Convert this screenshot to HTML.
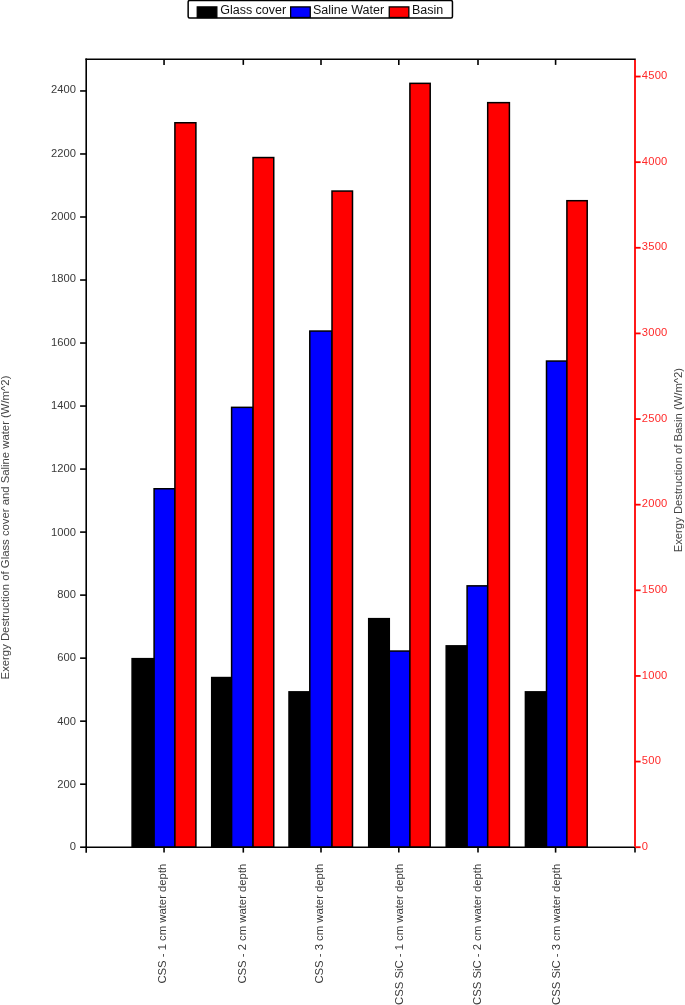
<!DOCTYPE html><html><head><meta charset="utf-8"><title>Exergy Destruction</title><style>html,body{margin:0;padding:0;background:#fff;width:685px;height:1005px;overflow:hidden}svg{display:block}text{font-family:'Liberation Sans', Arial, sans-serif}</style></head><body>
<svg width="685" height="1005" viewBox="0 0 685 1005">
<rect x="0" y="0" width="685" height="1005" fill="#fff"/>
<rect x="132.10" y="658.65" width="22.00" height="188.55" fill="#000000" stroke="#000" stroke-width="1.50"/>
<rect x="154.10" y="488.75" width="20.80" height="358.45" fill="#0000ff" stroke="#000" stroke-width="1.50"/>
<rect x="174.90" y="122.75" width="21.00" height="724.45" fill="#ff0000" stroke="#000" stroke-width="1.50"/>
<rect x="211.70" y="677.55" width="19.90" height="169.65" fill="#000000" stroke="#000" stroke-width="1.50"/>
<rect x="231.60" y="407.35" width="21.45" height="439.85" fill="#0000ff" stroke="#000" stroke-width="1.50"/>
<rect x="253.05" y="157.55" width="20.70" height="689.65" fill="#ff0000" stroke="#000" stroke-width="1.50"/>
<rect x="289.00" y="691.85" width="20.80" height="155.35" fill="#000000" stroke="#000" stroke-width="1.50"/>
<rect x="309.80" y="331.05" width="22.20" height="516.15" fill="#0000ff" stroke="#000" stroke-width="1.50"/>
<rect x="332.00" y="191.05" width="20.50" height="656.15" fill="#ff0000" stroke="#000" stroke-width="1.50"/>
<rect x="368.70" y="618.65" width="20.60" height="228.55" fill="#000000" stroke="#000" stroke-width="1.50"/>
<rect x="389.30" y="651.05" width="20.60" height="196.15" fill="#0000ff" stroke="#000" stroke-width="1.50"/>
<rect x="409.90" y="83.35" width="20.30" height="763.85" fill="#ff0000" stroke="#000" stroke-width="1.50"/>
<rect x="446.20" y="645.85" width="20.90" height="201.35" fill="#000000" stroke="#000" stroke-width="1.50"/>
<rect x="467.10" y="585.85" width="20.60" height="261.35" fill="#0000ff" stroke="#000" stroke-width="1.50"/>
<rect x="487.70" y="102.65" width="21.70" height="744.55" fill="#ff0000" stroke="#000" stroke-width="1.50"/>
<rect x="525.40" y="691.85" width="21.10" height="155.35" fill="#000000" stroke="#000" stroke-width="1.50"/>
<rect x="546.50" y="361.05" width="20.40" height="486.15" fill="#0000ff" stroke="#000" stroke-width="1.50"/>
<rect x="566.90" y="200.70" width="20.30" height="646.50" fill="#ff0000" stroke="#000" stroke-width="1.50"/>
<g stroke="#000" stroke-width="1.6" fill="none" stroke-linecap="square">
<line x1="86.20" y1="59.20" x2="635.00" y2="59.20"/>
<line x1="86.20" y1="59.20" x2="86.20" y2="847.20"/>
<line x1="86.20" y1="847.20" x2="635.00" y2="847.20"/>
</g>
<g stroke="#000" stroke-width="1.6" fill="none">
<line x1="80.1" y1="847.20" x2="86.20" y2="847.20"/>
<line x1="80.1" y1="784.18" x2="86.20" y2="784.18"/>
<line x1="80.1" y1="721.16" x2="86.20" y2="721.16"/>
<line x1="80.1" y1="658.14" x2="86.20" y2="658.14"/>
<line x1="80.1" y1="595.12" x2="86.20" y2="595.12"/>
<line x1="80.1" y1="532.10" x2="86.20" y2="532.10"/>
<line x1="80.1" y1="469.08" x2="86.20" y2="469.08"/>
<line x1="80.1" y1="406.06" x2="86.20" y2="406.06"/>
<line x1="80.1" y1="343.04" x2="86.20" y2="343.04"/>
<line x1="80.1" y1="280.02" x2="86.20" y2="280.02"/>
<line x1="80.1" y1="217.00" x2="86.20" y2="217.00"/>
<line x1="80.1" y1="153.98" x2="86.20" y2="153.98"/>
<line x1="80.1" y1="90.96" x2="86.20" y2="90.96"/>
<line x1="164.05" y1="59.20" x2="164.05" y2="64.9"/>
<line x1="164.05" y1="847.20" x2="164.05" y2="852.6"/>
<line x1="243.30" y1="59.20" x2="243.30" y2="64.9"/>
<line x1="243.30" y1="847.20" x2="243.30" y2="852.6"/>
<line x1="321.00" y1="59.20" x2="321.00" y2="64.9"/>
<line x1="321.00" y1="847.20" x2="321.00" y2="852.6"/>
<line x1="398.80" y1="59.20" x2="398.80" y2="64.9"/>
<line x1="398.80" y1="847.20" x2="398.80" y2="852.6"/>
<line x1="478.00" y1="59.20" x2="478.00" y2="64.9"/>
<line x1="478.00" y1="847.20" x2="478.00" y2="852.6"/>
<line x1="555.60" y1="59.20" x2="555.60" y2="64.9"/>
<line x1="555.60" y1="847.20" x2="555.60" y2="852.6"/>
<line x1="86.20" y1="847.20" x2="86.20" y2="852.8"/>
<line x1="635.00" y1="847.20" x2="635.00" y2="852.6"/>
</g>
<g stroke="#ff0000" stroke-width="1.8" fill="none">
<line x1="635.00" y1="59.90" x2="635.00" y2="846.40"/>
<line x1="635.00" y1="847.20" x2="640.6" y2="847.20"/>
<line x1="635.00" y1="761.57" x2="640.6" y2="761.57"/>
<line x1="635.00" y1="675.94" x2="640.6" y2="675.94"/>
<line x1="635.00" y1="590.31" x2="640.6" y2="590.31"/>
<line x1="635.00" y1="504.68" x2="640.6" y2="504.68"/>
<line x1="635.00" y1="419.05" x2="640.6" y2="419.05"/>
<line x1="635.00" y1="333.42" x2="640.6" y2="333.42"/>
<line x1="635.00" y1="247.79" x2="640.6" y2="247.79"/>
<line x1="635.00" y1="162.16" x2="640.6" y2="162.16"/>
<line x1="635.00" y1="76.53" x2="640.6" y2="76.53"/>
</g>
<g font-size="11.2" fill="#3a3a3a" text-anchor="end">
<text x="76.0" y="849.80">0</text>
<text x="76.0" y="788.05">200</text>
<text x="76.0" y="724.50">400</text>
<text x="76.0" y="661.10">600</text>
<text x="76.0" y="597.70">800</text>
<text x="76.0" y="535.90">1000</text>
<text x="76.0" y="472.30">1200</text>
<text x="76.0" y="409.00">1400</text>
<text x="76.0" y="345.50">1600</text>
<text x="76.0" y="282.05">1800</text>
<text x="76.0" y="220.20">2000</text>
<text x="76.0" y="157.00">2200</text>
<text x="76.0" y="93.20">2400</text>
</g>
<g font-size="11.2" fill="#ff2a2a" text-anchor="start" letter-spacing="0.25">
<text x="641.7" y="849.80">0</text>
<text x="641.7" y="764.17">500</text>
<text x="641.7" y="678.54">1000</text>
<text x="641.7" y="592.91">1500</text>
<text x="641.7" y="507.28">2000</text>
<text x="641.7" y="421.65">2500</text>
<text x="641.7" y="336.02">3000</text>
<text x="641.7" y="250.39">3500</text>
<text x="641.7" y="164.76">4000</text>
<text x="641.7" y="79.13">4500</text>
</g>
<g font-size="11.3" fill="#3a3a3a" text-anchor="end">
<text transform="translate(166.30,863.7) rotate(-90)">CSS - 1 cm water depth</text>
<text transform="translate(245.60,863.7) rotate(-90)">CSS - 2 cm water depth</text>
<text transform="translate(323.00,863.7) rotate(-90)">CSS - 3 cm water depth</text>
<text transform="translate(402.80,863.7) rotate(-90)">CSS SiC - 1 cm water depth</text>
<text transform="translate(480.60,863.7) rotate(-90)">CSS SiC - 2 cm water depth</text>
<text transform="translate(560.40,863.7) rotate(-90)">CSS SiC - 3 cm water depth</text>
</g>
<text font-size="10.2" fill="#444" textLength="303.8" lengthAdjust="spacingAndGlyphs" transform="translate(9.1,679.4) rotate(-90)">Exergy Destruction of Glass cover and Saline water (W/m^2)</text>
<text font-size="10.2" fill="#444" textLength="184.4" lengthAdjust="spacingAndGlyphs" transform="translate(682.0,552.3) rotate(-90)">Exergy Destruction of Basin (W/m^2)</text>
<rect x="188.15" y="0.5" width="264.3" height="17.45" rx="1.5" fill="#fff" stroke="#000" stroke-width="1.5"/>
<rect x="197.25" y="6.9" width="19.6" height="10.6" fill="#000" stroke="#000" stroke-width="1.3"/>
<rect x="290.65" y="6.9" width="19.6" height="10.6" fill="#0000ff" stroke="#000" stroke-width="1.3"/>
<rect x="389.25" y="6.9" width="19.6" height="10.6" fill="#ff0000" stroke="#000" stroke-width="1.3"/>
<g font-size="12.5" fill="#111">
<text x="220.2" y="13.9">Glass cover</text>
<text x="313.0" y="13.9">Saline Water</text>
<text x="412.0" y="13.9">Basin</text>
</g>
</svg></body></html>
